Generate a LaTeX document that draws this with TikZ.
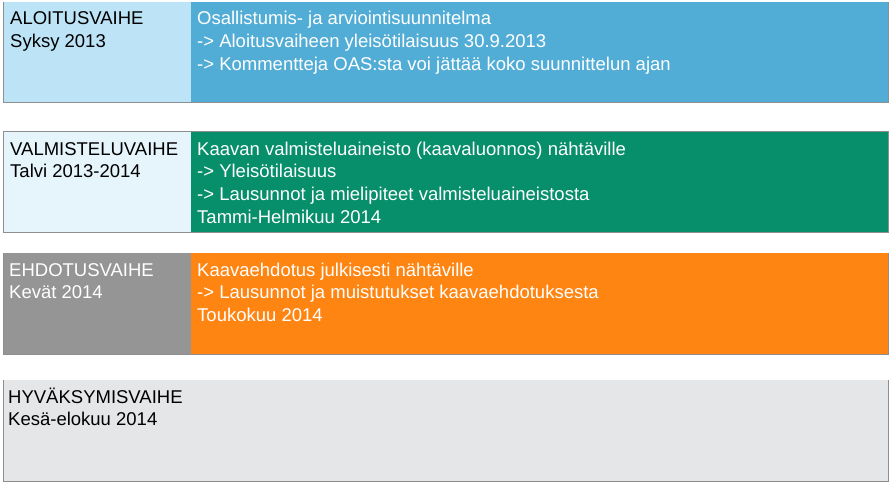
\documentclass[tikz,border=0pt]{standalone}
\usepackage{fontspec}
\setmainfont{Liberation Sans}

\definecolor{aloitusL}{HTML}{BDE3F7}
\definecolor{aloitusR}{HTML}{52ADD6}
\definecolor{valmisL}{HTML}{E6F5FC}
\definecolor{valmisR}{HTML}{078F6B}
\definecolor{ehdotusL}{HTML}{959595}
\definecolor{ehdotusR}{HTML}{FF8512}
\definecolor{hyvaksyL}{HTML}{E5E6E8}
\definecolor{framegray}{HTML}{8E8E8E}

\begin{document}
\begin{tikzpicture}[x=1pt,y=-1pt,
		phase/.style={anchor=base west, inner sep=0pt, align=left,
			font=\fontsize{18.5}{22.7}\selectfont}]
		\pgfmathsetmacro{\leftx}{3}
		\pgfmathsetmacro{\splitx}{191}
		\pgfmathsetmacro{\rightx}{888}
		\pgfmathsetmacro{\rowheight}{101}
		\pgfmathsetmacro{\linegap}{22.7}
		
		\useasboundingbox (0,0) rectangle (891,484);
		\foreach \rowtop/\lcol/\rcol in {2/aloitusL/aloitusR, 131.5/valmisL/valmisR, 253/ehdotusL/ehdotusR, 380/hyvaksyL/hyvaksyL}
		{
			\fill[\lcol] (\leftx,\rowtop) rectangle (\splitx,\rowtop+\rowheight);
			\fill[\rcol] (\splitx,\rowtop) rectangle (\rightx,\rowtop+\rowheight);
			\draw[framegray, line width=1pt] 
				(\leftx,\rowtop) -- 
				(\leftx,\rowtop+\rowheight) -- 
				(\rightx,\rowtop+\rowheight) --
				(\rightx,\rowtop);
		}
		% second row is framed on top as well
		\draw[framegray, line width=1pt] (\leftx,131.5) -- (\rightx,131.5);
		
		% base anchor sits on the last line, so shift down by (lines-1) gaps
		\node[phase, black] (aloitus) at (10,25+\linegap) {ALOITUSVAIHE\\Syksy 2013};
		\node[phase, white] (aloitusinfo) at (197,25+2*\linegap) {Osallistumis- ja arviointisuunnitelma\\-> Aloitusvaiheen yleisötilaisuus 30.9.2013\\-> Kommentteja OAS:sta voi jättää koko suunnittelun ajan};
		\node[phase, black] (valmistelu) at (10,155+\linegap) {VALMISTELUVAIHE\\Talvi 2013-2014};
		\node[phase, white] (valmisteluinfo) at (197,155+3*\linegap) {Kaavan valmisteluaineisto (kaavaluonnos) nähtäville\\-> Yleisötilaisuus\\-> Lausunnot ja mielipiteet valmisteluaineistosta\\Tammi-Helmikuu 2014};
		\node[phase, white] (ehdotus) at (9,276+\linegap) {EHDOTUSVAIHE\\Kevät 2014};
		\node[phase, white] (ehdotusinfo) at (197,276+2*\linegap) {Kaavaehdotus julkisesti nähtäville\\-> Lausunnot ja muistutukset kaavaehdotuksesta\\Toukokuu 2014};
		\node[phase, black] (hyvaksyminen) at (8,403+\linegap) {HYVÄKSYMISVAIHE\\Kesä-elokuu 2014};
	\end{tikzpicture}
\end{document}
